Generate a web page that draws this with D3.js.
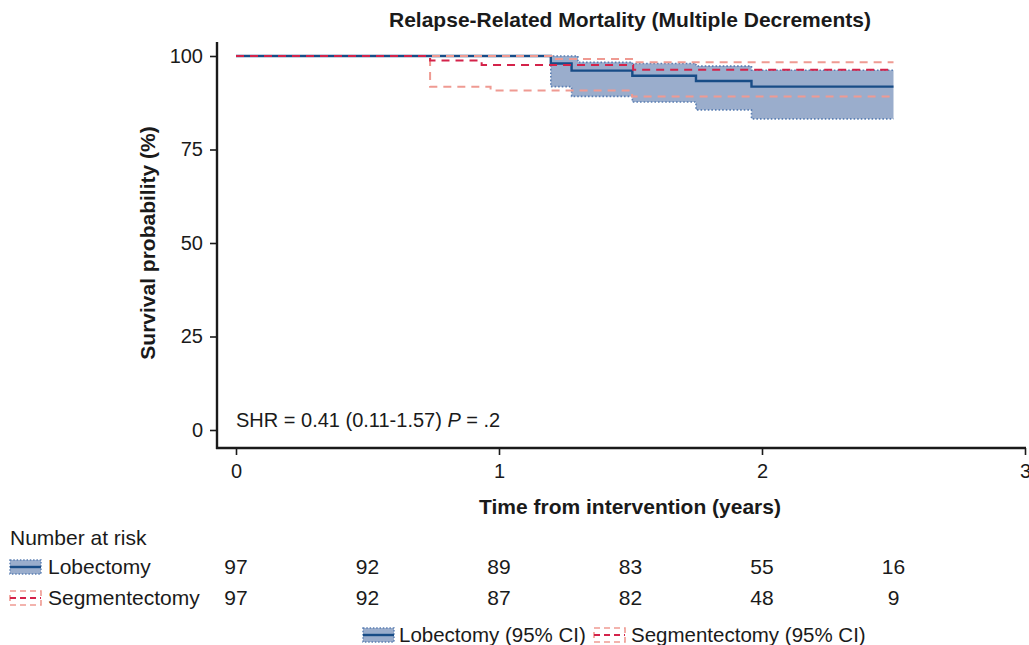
<!DOCTYPE html>
<html><head><meta charset="utf-8">
<script src="https://cdn.jsdelivr.net/npm/d3@7"></script>
<style>
body{margin:0;background:#fff;}
svg text{font-family:"Liberation Sans",Arial,Helvetica,sans-serif;fill:#1a1a1a;}
</style></head>
<body><svg id="c" width="1029" height="645"></svg>
<script>
// ---- data ----
const title = "Relapse-Related Mortality (Multiple Decrements)";
const xTicks = [0, 1, 2, 3];
const yTicks = [0, 25, 50, 75, 100];
const lobTime  = [0, 1.197, 1.276, 1.507, 1.749, 1.96, 2.5];
const lobSurv  = [100, 98.0, 96.1, 94.7, 93.3, 91.8, 91.8];
const lobUpperTime = [0, 1.30, 1.507, 1.749, 1.96, 2.5];
const lobUpper     = [100, 98.3, 98.0, 97.3, 96.2, 96.2];
const lobLower = [100, 91.8, 89.2, 87.7, 85.6, 83.2, 83.2];
const segTime  = [0, 0.738, 0.934, 1.51, 2.5];
const segSurv  = [100, 98.8, 97.6, 96.3, 96.3];
const segUpperTime = [0, 1.2, 1.51, 2.5];
const segUpper     = [100, 99.2, 98.3, 98.3];
const segLowerTime = [0, 0.738, 0.968, 1.506, 2.5];
const segLower     = [100, 91.8, 90.8, 89.2, 89.2];
const riskTimes = [0, 0.5, 1, 1.5, 2, 2.5];
const riskLob = [97, 92, 89, 83, 55, 16];
const riskSeg = [97, 92, 87, 82, 48, 9];
const groups = ["Lobectomy", "Segmentectomy"];

// ---- styles ----
const C = {lob:"#184c86", band:"#9aadcc", bandEdge:"#5b7fb3", seg:"#d4234a", segCI:"#ef9a92", axis:"#1a1a1a"};

const svg = d3.select("#c");
const x = d3.scaleLinear().domain([0,3]).range([236,1025]);
const y = d3.scaleLinear().domain([0,100]).range([430,56]);
const AX_Y = 448, AX_X = 217;

// title
svg.append("text").attr("x",630).attr("y",27).attr("text-anchor","middle")
  .style("font-size","21px").style("font-weight","bold").text(title);

// axes
const ya = svg.append("g").attr("transform",`translate(${AX_X},0)`)
  .call(d3.axisLeft(y).tickValues(yTicks).tickSize(7).tickSizeOuter(0).tickPadding(7));
ya.select(".domain").remove();
ya.selectAll(".tick line").attr("stroke",C.axis).attr("stroke-width",1.6);
ya.selectAll(".tick text").style("font-size","20px").attr("font-family",null);
svg.append("line").attr("x1",AX_X).attr("x2",AX_X).attr("y1",42).attr("y2",AX_Y+1)
  .attr("stroke",C.axis).attr("stroke-width",2.4);

const xa = svg.append("g").attr("transform",`translate(0,${AX_Y})`)
  .call(d3.axisBottom(x).tickValues(xTicks).tickFormat(d3.format("d")).tickSize(7).tickSizeOuter(0).tickPadding(9));
xa.select(".domain").remove();
xa.selectAll(".tick line").attr("stroke",C.axis).attr("stroke-width",1.6);
xa.selectAll(".tick text").style("font-size","20px").attr("font-family",null);
svg.append("line").attr("x1",AX_X-1).attr("x2",1026).attr("y1",AX_Y).attr("y2",AX_Y)
  .attr("stroke",C.axis).attr("stroke-width",2.4);

// axis titles
svg.append("text").attr("x",630).attr("y",514).attr("text-anchor","middle")
  .style("font-size","21px").style("font-weight","bold").text("Time from intervention (years)");
svg.append("text").attr("transform",`translate(155,${(y(0)+y(100))/2}) rotate(-90)`)
  .attr("text-anchor","middle").style("font-size","21px").style("font-weight","bold")
  .text("Survival probability (%)");

// curves
const zip = (t,v)=>t.map((d,i)=>[d,v[i]]);
const step = d3.line().x(d=>x(d[0])).y(d=>y(d[1])).curve(d3.curveStepAfter);
const area = d3.area().x(d=>x(d[0])).y0(d=>y(d[2])).y1(d=>y(d[1])).curve(d3.curveStepAfter);
const g = svg.append("g");

// band built on the union of step times
const bandTimes = Array.from(new Set(lobTime.concat(lobUpperTime))).sort((a,b)=>a-b);
const at = (t,v,tt)=>{ let r=v[0]; t.forEach((d,i)=>{ if(d<=tt) r=v[i]; }); return r; };
g.append("path").datum(bandTimes.map(tt=>[tt, at(lobUpperTime,lobUpper,tt), at(lobTime,lobLower,tt)]))
  .attr("d",area).attr("fill",C.band).attr("stroke","none");
[[lobUpperTime,lobUpper],[lobTime,lobLower]].forEach(([t,v])=>{
  g.append("path").datum(zip(t,v)).attr("d",step).attr("fill","none")
   .attr("stroke",C.bandEdge).attr("stroke-width",1.6).attr("stroke-dasharray","1.6,2");
});
g.append("path").datum(zip(lobTime,lobSurv)).attr("d",step).attr("fill","none")
  .attr("stroke",C.lob).attr("stroke-width",2.4);
[[segUpperTime,segUpper],[segLowerTime,segLower]].forEach(([t,v])=>{
  g.append("path").datum(zip(t,v)).attr("d",step).attr("fill","none")
   .attr("stroke",C.segCI).attr("stroke-width",2).attr("stroke-dasharray","8,6");
});
g.append("path").datum(zip(segTime,segSurv)).attr("d",step).attr("fill","none")
  .attr("stroke",C.seg).attr("stroke-width",2).attr("stroke-dasharray","8,6");

// SHR annotation
const shr = svg.append("text").attr("x",236).attr("y",427).style("font-size","20px");
shr.append("tspan").text("SHR = 0.41 (0.11-1.57) ");
shr.append("tspan").style("font-style","italic").text("P");
shr.append("tspan").text(" = .2");

// legend icons
function lobIcon(gx, gy){
  const k = svg.append("g").attr("transform",`translate(${gx},${gy})`);
  k.append("rect").attr("x",0).attr("y",0).attr("width",31).attr("height",14)
   .attr("fill",C.band).attr("stroke",C.bandEdge).attr("stroke-width",1.4).attr("stroke-dasharray","1.5,1.8");
  k.append("line").attr("x1",0).attr("x2",31).attr("y1",7).attr("y2",7).attr("stroke",C.lob).attr("stroke-width",2.4);
}
function segIcon(gx, gy){
  const k = svg.append("g").attr("transform",`translate(${gx},${gy})`);
  k.append("rect").attr("x",0).attr("y",0).attr("width",31).attr("height",14)
   .attr("fill","none").attr("stroke",C.segCI).attr("stroke-width",1.6).attr("stroke-dasharray","6,4");
  k.append("line").attr("x1",0).attr("x2",31).attr("y1",7).attr("y2",7).attr("stroke",C.seg).attr("stroke-width",2).attr("stroke-dasharray","6,4");
}

// number at risk
svg.append("text").attr("x",10).attr("y",545).style("font-size","21px").text("Number at risk");
const rows = [[riskLob,574,lobIcon],[riskSeg,605,segIcon]];
rows.forEach(([vals,by,icon],r)=>{
  icon(10, by-14);
  svg.append("text").attr("x",48).attr("y",by).style("font-size","21px").text(groups[r]);
  svg.selectAll(null).data(vals).enter().append("text")
    .attr("x",(d,i)=>x(riskTimes[i])).attr("y",by).attr("text-anchor","middle")
    .style("font-size","21px").text(d=>d);
});

// bottom legend
lobIcon(363, 628);
svg.append("text").attr("x",399).attr("y",642).style("font-size","20.5px").text(groups[0]+" (95% CI)");
segIcon(594, 628);
svg.append("text").attr("x",631).attr("y",642).style("font-size","20.5px").text(groups[1]+" (95% CI)");
</script></body></html>
